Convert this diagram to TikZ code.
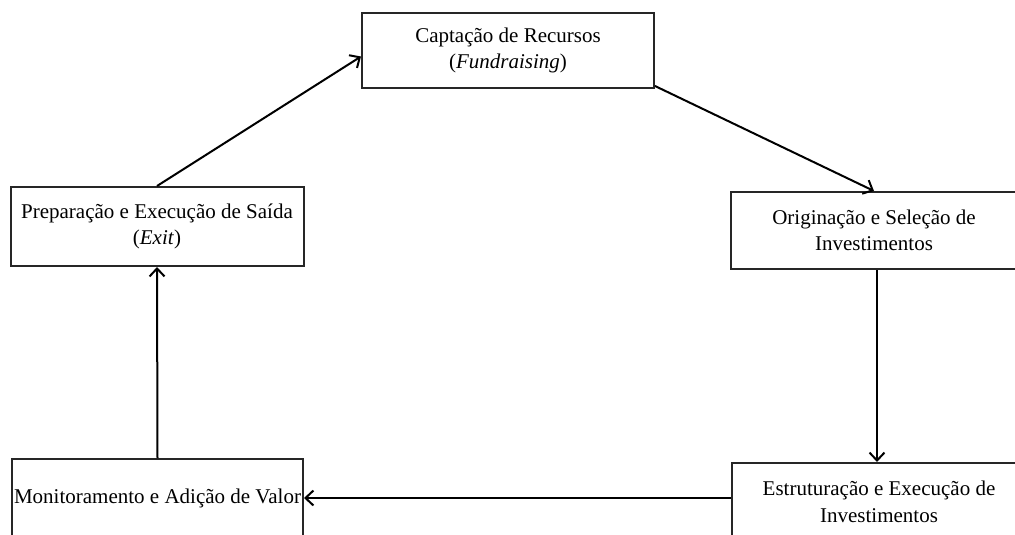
\documentclass[tikz,border=0pt]{standalone}
\usepackage{fontspec}
\setmainfont{Liberation Serif}
\usetikzlibrary{arrows.meta}
\begin{document}
\begin{tikzpicture}[x=1pt,y=-1pt,
  box/.style={draw=black!85,line width=2pt,align=center,inner sep=0pt,
    font=\fontsize{21}{26.5}\selectfont,text=black},
  conn/.style={draw=black,line width=2pt,-{Straight Barb[length=8pt,width=15pt,line width=2pt]}}]
\path[use as bounding box,clip] (0,0) rectangle (1015,535);
\fill[white] (0,0) rectangle (1015,535);
\node[box,minimum width=292pt,minimum height=75pt] (top) at (508,50.5) {Captação de Recursos\\(\textit{Fundraising})};
\node[box,minimum width=293pt,minimum height=79pt] (left) at (157,226.5) {Preparação e Execução de Saída\\(\textit{Exit})};
\node[box,minimum width=286pt,minimum height=77pt] (right) at (874,230.5) {Originação e Seleção de\\Investimentos};
\node[box,minimum width=291pt,minimum height=78pt] (bl) at (157.5,498) {Monitoramento e Adição de Valor};
\node[box,minimum width=294pt,minimum height=78pt] (br) at (879,502) {Estruturação e Execução de\\Investimentos};
\draw[conn] (left.north) -- ([yshift=-6pt]top.west);
\draw[conn] ([yshift=3pt]top.south east) -- (right.north);
\draw[conn] ([xshift=3pt]right.south) -- ([xshift=-2pt]br.north);
\draw[conn] (br.west |- bl.east) -- (bl.east);
\draw[conn] (bl.north) -- (left.south);
\end{tikzpicture}
\end{document}
